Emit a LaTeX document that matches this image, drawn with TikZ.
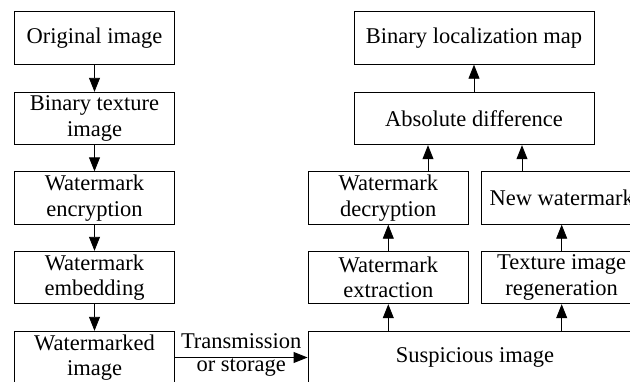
\documentclass[tikz,border=0pt]{standalone}
\usepackage{fontspec}
\setmainfont{Liberation Serif}
\usetikzlibrary{arrows.meta}
\begin{document}
\begin{tikzpicture}[x=1pt,y=-1pt,
  box/.style={draw,line width=0.9pt,minimum width=160pt,minimum height=52.5pt,inner sep=0pt,align=center,
    font=\fontsize{22.5}{25.5}\selectfont},
  widebox/.style={box,minimum width=240pt},
  arr/.style={line width=0.9pt,-{Triangle[length=14pt,width=11pt]}},
  lbl/.style={font=\fontsize{22.5}{26}\selectfont,inner sep=0pt,anchor=base}]
\path[use as bounding box,clip] (0,0) rectangle (630,381);
\fill[white] (0,0) rectangle (630,381);
% left column
\node[box] (orig) at (94.5,38) {Original image};
\node[box] (btex) at (94.5,118.5) {Binary texture\\image};
\node[box] (wenc) at (94.5,198) {Watermark\\encryption};
\node[box] (wemb) at (94.5,277.5) {Watermark\\embedding};
\node[box] (wmkd) at (94.5,357.5) {Watermarked\\image};
% right part
\node[widebox] (blm) at (474,38) {Binary localization map};
\node[widebox] (absd) at (474,118.5) {Absolute difference};
\node[box] (wdec) at (388.3,198) {Watermark\\decryption};
\node[box] (neww) at (561.7,198) {New watermark};
\node[box] (wext) at (388.3,277.5) {Watermark\\extraction};
\node[box] (treg) at (561.7,277.5) {Texture image\\regeneration};
\node[box,minimum width=334pt] (susp) at (475,357.5) {Suspicious image};
% arrows left
\draw[arr] (orig) -- (btex);
\draw[arr] (btex) -- (wenc);
\draw[arr] (wenc) -- (wemb);
\draw[arr] (wemb) -- (wmkd);
\draw[arr] (wmkd) -- (susp)
  node[midway,lbl,yshift=9pt] (tr) {Transmission}
  node[midway,lbl,yshift=-14.4pt] (os) {or storage};
% arrows right
\draw[arr] (susp.north -| wext) -- (wext);
\draw[arr] (susp.north -| treg) -- (treg);
\draw[arr] (wext) -- (wdec);
\draw[arr] (treg) -- (neww);
\draw[arr] ([xshift=-46pt]absd.south |- wdec.north) -- ([xshift=-46pt]absd.south);
\draw[arr] ([xshift=48pt]absd.south |- neww.north) -- ([xshift=48pt]absd.south);
\draw[arr] (absd) -- (blm);
\end{tikzpicture}
\end{document}
